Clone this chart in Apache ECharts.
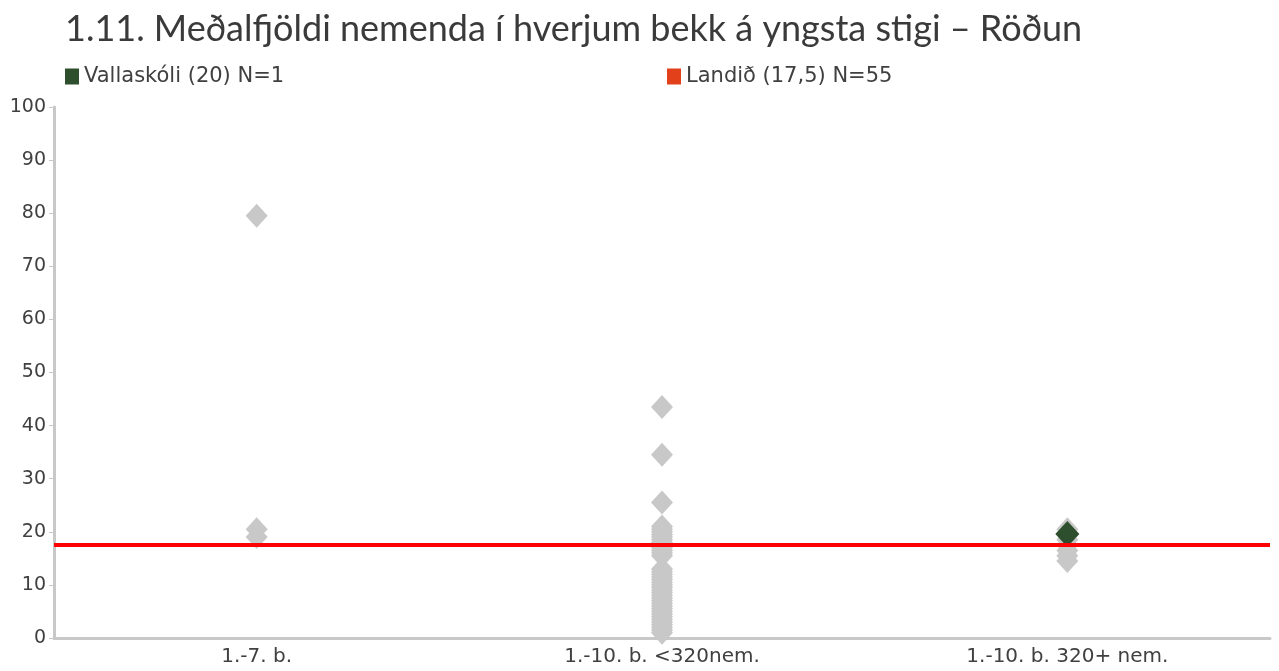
<!DOCTYPE html>
<html>
<head>
<meta charset="utf-8">
<script src="https://cdn.jsdelivr.net/npm/echarts@6/dist/echarts.min.js"></script>
<style>
  html, body { margin: 0; padding: 0; background: #fff; }
  #chart { width: 1279px; height: 671px; }
</style>
</head>
<body>
<div id="chart"></div>
<script>
const categories = ['1.-7. b.', '1.-10. b. <320nem.', '1.-10. b. 320+ nem.'];
const schoolsSmall = [79.5, 20.5, 19];
const schoolsMid = [43.5, 34.5, 25.5, 21, 20.5, 20, 19.5, 19, 18.5, 18, 17.5, 17, 16.5, 16, 15.5,
  13, 12.5, 12, 11.5, 11, 10.5, 10, 9.5, 9, 8.5, 8, 7.5, 7, 6.5, 6, 5.5, 5, 4.5, 4, 3.5, 3, 2.5, 2, 1.5, 1];
const schoolsLarge = [20.5, 19.5, 18.5, 17.5, 16.5, 15.5, 14.5];
const vallaskoli = [null, null, 19.6];
const landid = 17.5;
const yTicks = [0, 10, 20, 30, 40, 50, 60, 70, 80, 90, 100];

const chartDom = document.getElementById('chart');
const myChart = echarts.init(chartDom);

const otherPoints = [];
[schoolsSmall, schoolsMid, schoolsLarge].forEach((vals, i) => {
  vals.forEach(v => otherPoints.push([i, v]));
});

const labelFont = 'DejaVu Sans';

const option = {
  animation: false,
  backgroundColor: '#fff',
  textStyle: { fontFamily: labelFont },
  title: {
    text: '1.11. Meðalfjöldi nemenda í hverjum bekk á yngsta stigi – Röðun',
    left: 60,
    top: 6,
    textStyle: { fontSize: 36, fontWeight: 'normal', color: '#3a3a3a', fontFamily: 'Lato' }
  },
  legend: [
    {
      left: 60,
      top: 61,
      icon: 'rect',
      itemWidth: 14,
      itemHeight: 16,
      itemGap: 6,
      textStyle: { fontSize: 21, color: '#404040', fontFamily: labelFont },
      data: ['Vallaskóli (20) N=1']
    },
    {
      left: 662,
      top: 61,
      icon: 'rect',
      itemWidth: 14,
      itemHeight: 16,
      textStyle: { fontSize: 21, color: '#404040', fontFamily: labelFont },
      data: [{ name: 'Landið (17,5) N=55', itemStyle: { color: '#e2401b' } }]
    }
  ],
  grid: { left: 54, right: 9, top: 107, bottom: 33 },
  xAxis: {
    type: 'category',
    data: categories,
    axisLine: { lineStyle: { color: '#c8c8c8', width: 3 } },
    axisTick: { show: false },
    axisLabel: { color: '#404040', fontSize: 20, margin: 9 }
  },
  yAxis: {
    type: 'value',
    min: yTicks[0],
    max: yTicks[yTicks.length - 1],
    interval: 10,
    axisLine: { show: true, lineStyle: { color: '#c8c8c8', width: 3 } },
    axisTick: { show: true, length: 5, lineStyle: { color: '#c8c8c8', width: 1 } },
    axisLabel: { color: '#404040', fontSize: 19, margin: 8 },
    splitLine: { show: false }
  },
  series: [
    {
      name: 'Aðrir skólar',
      type: 'scatter',
      symbol: 'diamond',
      symbolSize: [22, 24],
      itemStyle: { color: '#c8c8c8', opacity: 1 },
      data: otherPoints,
      z: 2
    },
    {
      name: 'Landið (17,5) N=55',
      type: 'line',
      data: [],
      itemStyle: { color: '#e2401b' },
      markLine: {
        symbol: 'none',
        silent: true,
        label: { show: false },
        lineStyle: { color: '#ff0000', width: 4, type: 'solid' },
        data: [{ yAxis: landid }]
      },
      z: 3
    },
    {
      name: 'Vallaskóli (20) N=1',
      type: 'scatter',
      symbol: 'diamond',
      symbolSize: [24, 26],
      itemStyle: { color: '#2d4f2d', opacity: 1 },
      data: vallaskoli,
      z: 4
    }
  ]
};

option && myChart.setOption(option);
</script>
</body>
</html>
